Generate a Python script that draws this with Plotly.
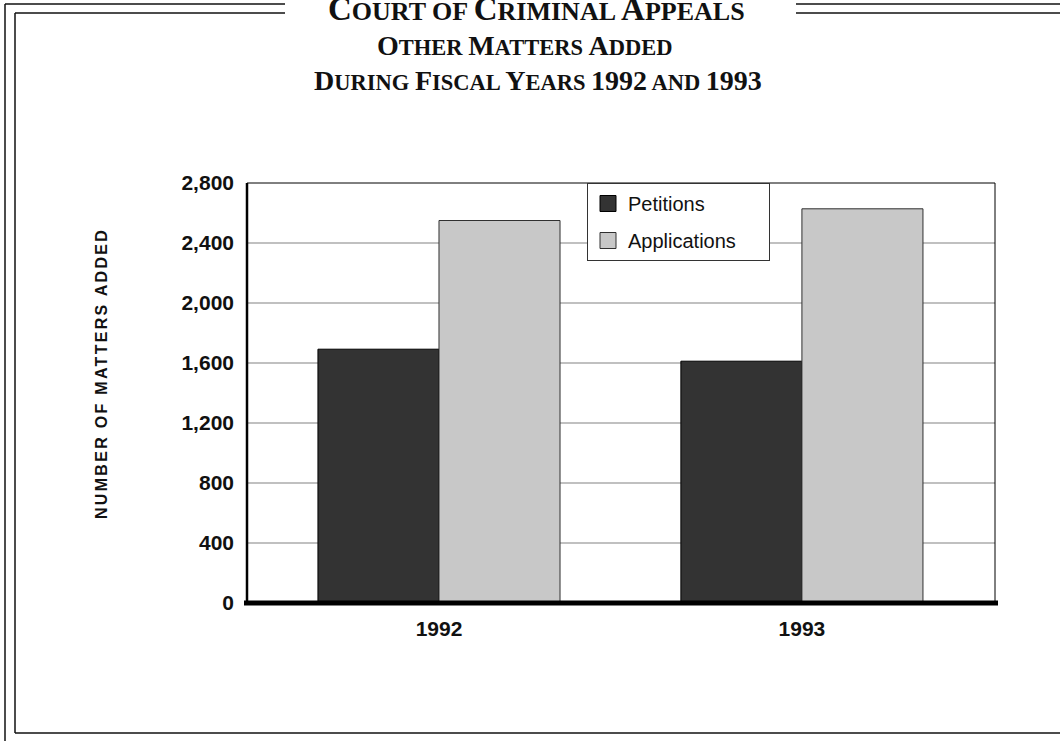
import plotly.graph_objects as go

years = ["1992", "1993"]
petitions = [1692, 1612]
applications = [2550, 2628]
y_ticks = [0, 400, 800, 1200, 1600, 2000, 2400, 2800]
y_tick_text = ["0", "400", "800", "1,200", "1,600", "2,000", "2,400", "2,800"]

W, H = 1060, 741
L, R, T, B = 247, 995, 183, 603


def px(x):
    return (x - L) / (R - L)


def py(y):
    return (B - y) / (B - T)


fig = go.Figure()
fig.add_trace(go.Bar(x=years, y=petitions, name="Petitions", showlegend=False,
                     marker=dict(color="#333333", line=dict(color="#000000", width=1))))
fig.add_trace(go.Bar(x=years, y=applications, name="Applications", showlegend=False,
                     marker=dict(color="#c8c8c8", line=dict(color="#303030", width=1))))
# legend proxies
fig.add_trace(go.Scatter(x=[None], y=[None], mode="markers", name="Petitions", legendgroup="a",
                         marker=dict(symbol="square", size=16, color="#333333",
                                     line=dict(color="#000000", width=1))))
fig.add_trace(go.Scatter(x=[None], y=[None], mode="markers",
                         name="Applications" + "&nbsp;" * 5, legendgroup="b",
                         marker=dict(symbol="square", size=16, color="#c8c8c8",
                                     line=dict(color="#303030", width=1))))

shapes = []
blk = dict(color="#111111", width=1.5)
# outer frame
shapes.append(dict(type="line", xref="paper", yref="paper", x0=px(5), x1=px(285), y0=py(4), y1=py(4), line=blk))
shapes.append(dict(type="line", xref="paper", yref="paper", x0=px(796), x1=px(1062), y0=py(4), y1=py(4), line=blk))
shapes.append(dict(type="line", xref="paper", yref="paper", x0=px(5), x1=px(5), y0=py(4), y1=py(745), line=blk))
# inner frame
shapes.append(dict(type="line", xref="paper", yref="paper", x0=px(15), x1=px(285), y0=py(13), y1=py(13), line=blk))
shapes.append(dict(type="line", xref="paper", yref="paper", x0=px(796), x1=px(1062), y0=py(13), y1=py(13), line=blk))
shapes.append(dict(type="line", xref="paper", yref="paper", x0=px(15), x1=px(15), y0=py(13), y1=py(733), line=blk))
shapes.append(dict(type="line", xref="paper", yref="paper", x0=px(15), x1=px(1062), y0=py(733), y1=py(733), line=blk))
# plot frame
shapes.append(dict(type="rect", xref="paper", yref="paper", x0=0, x1=1, y0=0, y1=1,
                   line=dict(color="#000000", width=1), layer="above"))
shapes.append(dict(type="line", xref="paper", yref="paper", x0=0, x1=0, y0=0, y1=1,
                   line=dict(color="#000000", width=2.5), layer="above"))
# thick baseline
shapes.append(dict(type="line", xref="paper", yref="paper", x0=px(244), x1=px(998), y0=py(603), y1=py(603),
                   line=dict(color="#000000", width=5), layer="above"))

serif = "Liberation Serif, Times New Roman, serif"
SMALL_WORDS = ("AND", "OF")


def sc(text, big, small):
    out = []
    for word in text.split(" "):
        if word[0].isdigit():
            out.append(f"<span style='font-size:{big}px'>{word}</span>")
        elif word in SMALL_WORDS:
            out.append(f"<span style='font-size:{small}px'>{word}</span>")
        else:
            out.append(f"<span style='font-size:{big}px'>{word[0]}</span>"
                       f"<span style='font-size:{small}px'>{word[1:]}</span>")
    return " ".join(out)


annotations = [
    dict(text="<b>" + sc("COURT OF CRIMINAL APPEALS", 33, 26) + "</b>", x=px(536), y=py(9),
         xref="paper", yref="paper", showarrow=False, xanchor="center", yanchor="middle",
         font=dict(family=serif, size=26, color="#111111")),
    dict(text="<b>" + sc("OTHER MATTERS ADDED", 28, 22.5) + "</b>", x=px(525), y=py(45),
         xref="paper", yref="paper", showarrow=False, xanchor="center", yanchor="middle",
         font=dict(family=serif, size=22.5, color="#111111")),
    dict(text="<b>" + sc("DURING FISCAL YEARS 1992 AND 1993", 28, 22.5) + "</b>", x=px(538), y=py(80),
         xref="paper", yref="paper", showarrow=False, xanchor="center", yanchor="middle",
         font=dict(family=serif, size=22.5, color="#111111")),
    dict(text="<b><span style='letter-spacing:2.3px'>NUMBER OF MATTERS ADDED</span></b>",
         x=px(101), y=py(374), xref="paper", yref="paper", showarrow=False, textangle=-90,
         xanchor="center", yanchor="middle",
         font=dict(family="Liberation Sans, Arial, sans-serif", size=16, color="#111111")),
]

fig.update_layout(
    width=W, height=H,
    margin=dict(l=L, r=W - R, t=T, b=H - B, pad=0),
    paper_bgcolor="white", plot_bgcolor="white",
    barmode="group", bargap=0.333, bargroupgap=0,
    shapes=shapes, annotations=annotations,
    font=dict(family="Liberation Sans, Arial, sans-serif", color="#111111"),
    legend=dict(x=px(587), y=1, xanchor="left", yanchor="top",
                bgcolor="white", bordercolor="#333333", borderwidth=1,
                font=dict(size=20, family="Liberation Sans, Arial, sans-serif", color="#111111"),
                tracegroupgap=8, itemwidth=30),
    xaxis=dict(type="category", range=[-0.529, 1.532], showgrid=False, showline=False,
               ticks="", tickfont=dict(size=21, family="Liberation Sans, Arial, sans-serif", weight="bold"),
               ticklabelstandoff=11),
    yaxis=dict(range=[0, 2800], tickvals=y_ticks, ticktext=y_tick_text, showgrid=True,
               gridcolor="#c0c0c0", gridwidth=1.5, zeroline=False, showline=False, ticks="",
               tickfont=dict(size=21, family="Liberation Sans, Arial, sans-serif", weight="bold"),
               ticklabelstandoff=12),
)

fig.write_html("out.html", config={"displayModeBar": False},
               post_script="document.body.style.margin='0';document.body.style.overflow='hidden';")
